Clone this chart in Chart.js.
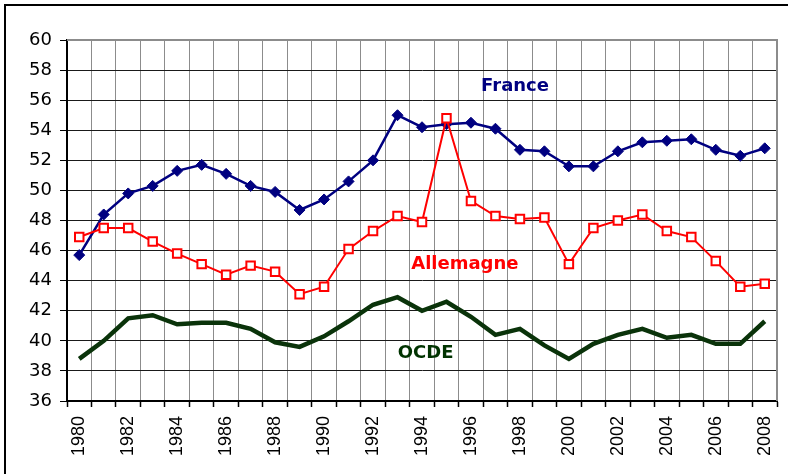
<!DOCTYPE html>
<html>
<head>
<meta charset="utf-8">
<script src="https://cdn.jsdelivr.net/npm/chart.js@4.4.0/dist/chart.umd.min.js"></script>
<style>
  html, body { margin: 0; padding: 0; background: #fff; }
  #wrap { width: 788px; height: 474px; }
</style>
</head>
<body>
<div id="wrap"><canvas id="js--chart" width="788" height="474"></canvas></div>
<script>
/* donnees */
const years = [
    "1980", "1981", "1982", "1983", "1984", "1985", "1986", "1987", "1988", "1989",
    "1990", "1991", "1992", "1993", "1994", "1995", "1996", "1997", "1998", "1999",
    "2000", "2001", "2002", "2003", "2004", "2005", "2006", "2007", "2008"
];

const france = [45.7, 48.4, 49.8, 50.3, 51.3, 51.7, 51.1, 50.3, 49.9, 48.7,
                49.4, 50.6, 52.0, 55.0, 54.2, 54.4, 54.5, 54.1, 52.7, 52.6,
                51.6, 51.6, 52.6, 53.2, 53.3, 53.4, 52.7, 52.3, 52.8];

const allemagne = [46.9, 47.5, 47.5, 46.6, 45.8, 45.1, 44.4, 45.0, 44.6, 43.1,
                   43.6, 46.1, 47.3, 48.3, 47.9, 54.8, 49.3, 48.3, 48.1, 48.2,
                   45.1, 47.5, 48.0, 48.4, 47.3, 46.9, 45.3, 43.6, 43.8];

const ocde = [38.8, 40.0, 41.5, 41.7, 41.1, 41.2, 41.2, 40.8, 39.9, 39.6,
              40.3, 41.3, 42.4, 42.9, 42.0, 42.6, 41.6, 40.4, 40.8, 39.7,
              38.8, 39.8, 40.4, 40.8, 40.2, 40.4, 39.8, 39.8, 41.3];

const yMin = 36;
const yMax = 60;
const yStep = 2;

/* cadre + etiquettes des series */
const decor = {
    id: 'decor',
    beforeDraw(chart) {
        const ctx = chart.ctx;
        ctx.save();
        ctx.strokeStyle = '#000';
        ctx.lineWidth = 2;
        ctx.beginPath();
        ctx.moveTo(5, 474);
        ctx.lineTo(5, 5);
        ctx.lineTo(788, 5);
        ctx.stroke();
        ctx.restore();
    },
    afterDatasetsDraw(chart) {
        const ctx = chart.ctx;
        const a = chart.chartArea;
        const x = chart.scales.x;
        const y = chart.scales.y;
        ctx.save();
        // bord gris (haut + droite) de la zone de trace
        ctx.strokeStyle = '#8c8c8c';
        ctx.lineWidth = 2;
        ctx.beginPath();
        ctx.moveTo(a.left, a.top);
        ctx.lineTo(a.right, a.top);
        ctx.lineTo(a.right, a.bottom);
        ctx.stroke();

        const notes = [
            { text: 'France', i: 17.8, v: 56.9, color: '#000080' },
            { text: 'Allemagne', i: 15.75, v: 45.1, color: '#ff0000' },
            { text: 'OCDE', i: 14.15, v: 39.15, color: '#003300' }
        ];
        ctx.font = 'bold 18px "DejaVu Sans"';
        ctx.textAlign = 'center';
        ctx.textBaseline = 'middle';
        notes.forEach(function (n) {
            ctx.fillStyle = n.color;
            ctx.fillText(n.text, x.getPixelForValue(n.i), y.getPixelForValue(n.v));
        });
        ctx.restore();
    }
};

const data = {
    labels: years,
    datasets: [
        {
            label: 'Allemagne',
            data: allemagne,
            borderColor: '#ff0000',
            borderWidth: 2,
            pointStyle: 'rect',
            pointRadius: 6,
            pointBorderWidth: 2,
            pointBorderColor: '#ff0000',
            pointBackgroundColor: '#ffffff',
            tension: 0
        },
        {
            label: 'France',
            data: france,
            borderColor: '#000080',
            borderWidth: 2.5,
            pointStyle: 'rectRot',
            pointRadius: 5.5,
            pointBorderWidth: 1,
            pointBorderColor: '#000080',
            pointBackgroundColor: '#000080',
            tension: 0
        },
        {
            label: 'OCDE',
            data: ocde,
            borderColor: '#0a330a',
            borderWidth: 4.5,
            pointRadius: 0,
            tension: 0
        }
    ]
};

const config = {
    type: 'line',
    data: data,
    plugins: [decor],
    options: {
        responsive: false,
        animation: false,
        devicePixelRatio: 1,
        layout: { padding: { left: 5, top: 40, right: 11, bottom: 0 } },
        plugins: {
            legend: { display: false },
            tooltip: { enabled: false }
        },
        scales: {
            x: {
                offset: true,
                afterFit: function (scale) {
                    scale.height = 73;
                    scale.paddingLeft = 0;
                    scale.paddingRight = 0;
                },
                grid: {
                    offset: true,
                    color: '#8c8c8c',
                    lineWidth: 1,
                    tickLength: 6,
                    tickColor: '#000',
                    tickWidth: 1.5
                },
                border: { color: '#000', width: 2 },
                ticks: {
                    autoSkip: false,
                    minRotation: 90,
                    maxRotation: 90,
                    padding: 9,
                    color: '#000',
                    font: { family: '"Liberation Sans", Arial', size: 18 },
                    callback: function (value, index) {
                        return index % 2 === 0 ? years[index] : '';
                    }
                }
            },
            y: {
                min: yMin,
                max: yMax,
                afterFit: function (scale) { scale.width = 62; },
                grid: {
                    color: '#1a1a1a',
                    lineWidth: 1,
                    tickLength: 7,
                    tickColor: '#000'
                },
                border: { color: '#000', width: 2 },
                ticks: {
                    stepSize: yStep,
                    padding: 8,
                    color: '#000',
                    font: { family: '"DejaVu Sans"', size: 18 }
                }
            }
        }
    }
};

new Chart(document.getElementById('js--chart'), config);
</script>
</body>
</html>
